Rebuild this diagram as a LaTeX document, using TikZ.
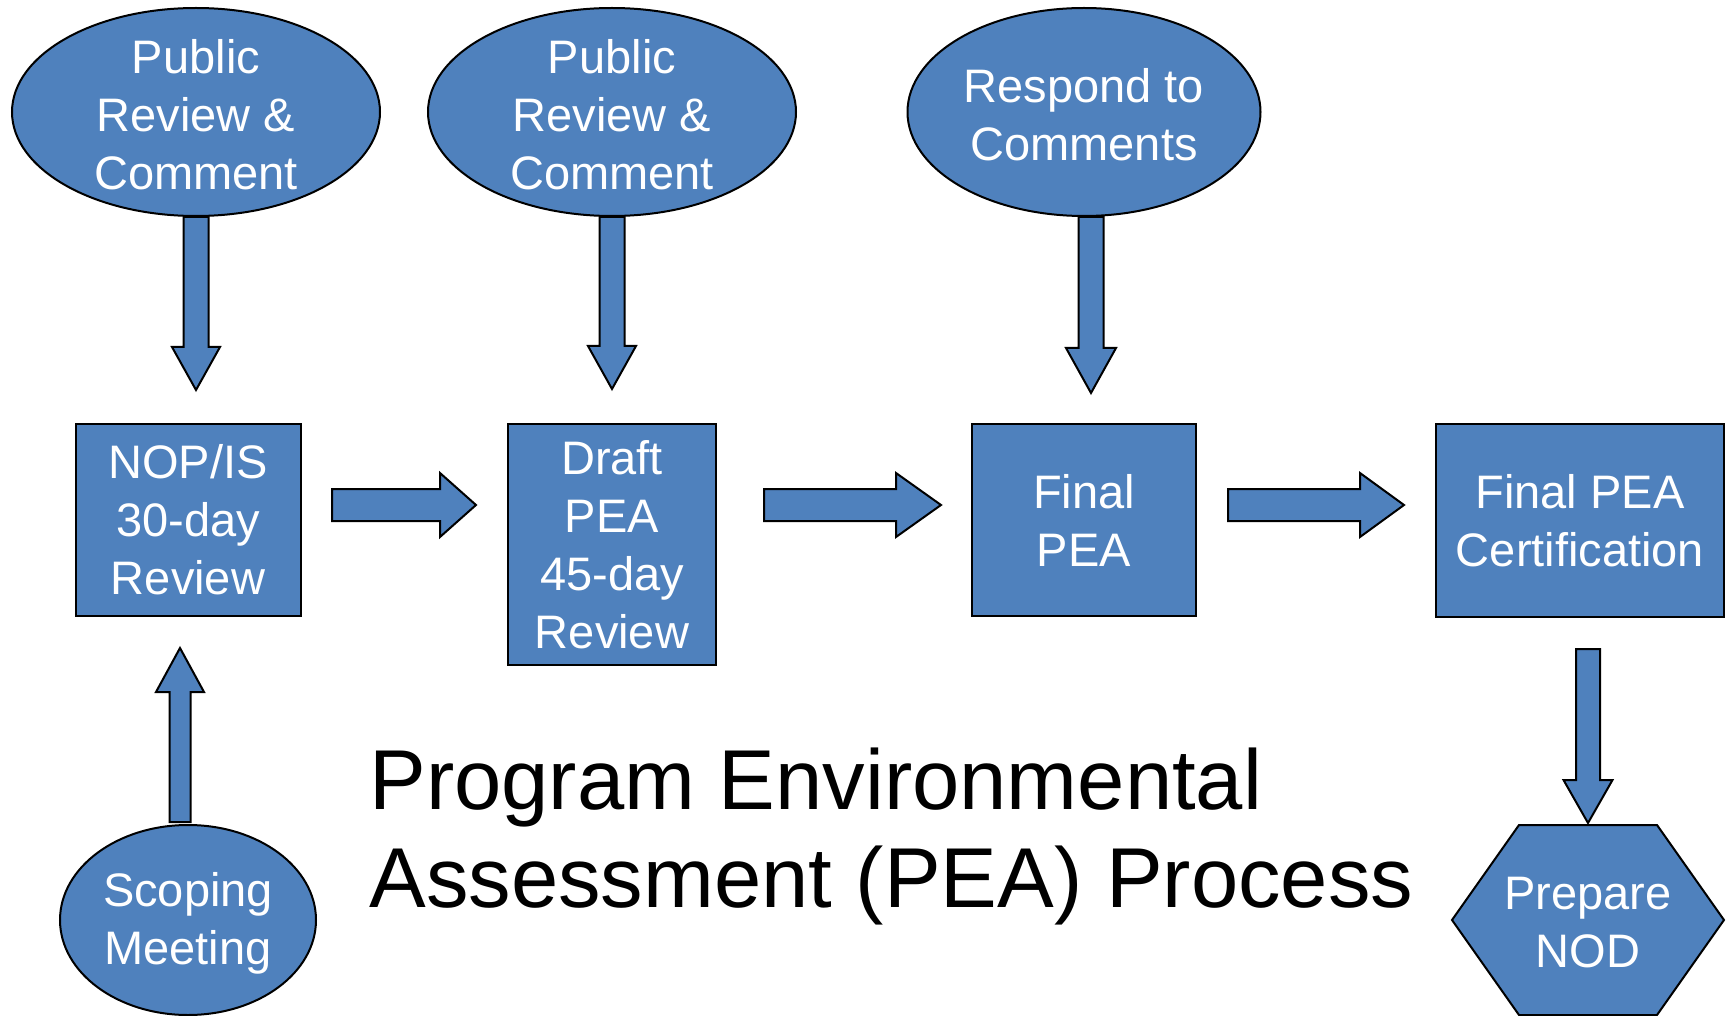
\documentclass[tikz,border=0pt]{standalone}
\usepackage{fontspec}
\setmainfont{Liberation Sans}
\usepackage{tikz}
\usetikzlibrary{shapes.geometric}
\usetikzlibrary{calc}
\definecolor{peablue}{HTML}{4F81BD}
\tikzset{basic/.style={draw=black,fill=peablue,line width=1pt}}
\tikzset{bubble/.style={basic,ellipse,minimum height=104pt,inner sep=0pt}}
\tikzset{stepbox/.style={basic,rectangle,inner sep=2pt,text=white,
                         align=center,font=\boxfont}}
\tikzset{fat/.style={basic,line join=miter}}
\def\boxfont{\fontsize{23.5}{29}\selectfont}
% block arrow: start, tip, half shaft, half head, head length
\newcommand{\fatarrow}[5]{%
  \coordinate (fa-h) at ($(#2)!#5!(#1)$);
  \draw[fat] ($(#1)!#3!90:(#2)$) -- ($(fa-h)!#3!90:(#2)$) -- ($(fa-h)!#4!90:(#2)$)
    -- (#2) -- ($(fa-h)!#4!-90:(#2)$) -- ($(fa-h)!#3!-90:(#2)$)
    -- ($(#1)!#3!-90:(#2)$) -- cycle;}

\begin{document}
\begin{tikzpicture}[x=0.5pt,y=-0.5pt]
    \tikzstyle{btext}=[text=white,align=center,font=\boxfont,inner sep=0pt,yshift=-1.5pt]
    \tikzstyle{title}=[align=left,inner sep=0pt,font=\fontsize{42.5}{49}\selectfont]
    \useasboundingbox (0,0) rectangle (1731,1016);

    % Draw the comment bubbles across the top
    \foreach \name/\x/\w/\txt in {1/196/184pt/{Public\\Review \&\\Comment},
                                  2/612/184pt/{Public\\Review \&\\Comment},
                                  3/1084/176.5pt/{Respond to\\Comments}}
    {
        \node[bubble,minimum width=\w] (P-\name) at (\x,112) {};
        \node[btext] (P-\name-t) at (P-\name) {\txt};
    }

    % Draw the process steps
    \node[stepbox,minimum width=112.5pt,minimum height=96pt] (B-1) at (188,520) {NOP/IS\\30-day\\Review};
    \node[stepbox,minimum width=104pt,minimum height=120.5pt] (B-2) at (612,544.5) {Draft\\PEA\\45-day\\Review};
    \node[stepbox,minimum width=112pt,minimum height=96pt] (B-3) at (1084,520) {Final\\PEA};
    \node[stepbox,minimum width=144pt,minimum height=96pt] (B-4) at (1580,520.5) {Final PEA\\Certification};

    % Scoping meeting and the NOD hexagon at the bottom
    \node[bubble,minimum width=128pt,minimum height=95pt] (S-1) at (188,920) {};
    \node[btext] (S-1-t) at (S-1) {Scoping\\Meeting};
    \coordinate (N-c) at (1588,920);
    \draw[basic] (N-c) ++(-136,0) -- ++(67,-95) -- ++(138,0) -- ++(67,95)
        -- ++(-67,95) -- ++(-138,0) -- cycle;
    \node[btext] (N-1) at (N-c) {Prepare\\NOD};

    % Title
    \node[title,anchor=base west] (T-1) at (369,907) {Program Environmental\\Assessment (PEA) Process};

    % Arrow end points
    \coordinate (D-1) at (196,390);
    \coordinate (D-2) at (612,389);
    \coordinate (D-3s) at ($(P-3.south)+(7,0)$);
    \coordinate (D-3) at (1091,393);
    \foreach \i/\a/\b in {1/332/476,2/764/941,3/1228/1404}
    {
        \coordinate (R-\i a) at (\a,505);
        \coordinate (R-\i b) at (\b,505);
    }
    \coordinate (U-a) at (180,822);
    \coordinate (U-b) at (180,648);
    \coordinate (V-a) at (1588,649);
    \coordinate (V-b) at (1588,823);

    % Arrows from the bubbles down to the steps
    \fatarrow{P-1.south}{D-1}{6.25pt}{12pt}{21.5pt}
    \fatarrow{P-2.south}{D-2}{6.25pt}{12pt}{21.5pt}
    \fatarrow{D-3s}{D-3}{6.25pt}{12.5pt}{22.5pt}

    % Arrows between the steps
    \foreach \i/\h in {1/18pt,2/22.5pt,3/22pt}
    {
        \fatarrow{R-\i a}{R-\i b}{8pt}{16pt}{\h}
    }

    % Scoping up, certification down
    \fatarrow{U-a}{U-b}{5.25pt}{12pt}{22pt}
    \fatarrow{V-a}{V-b}{6pt}{12.25pt}{21.5pt}
\end{tikzpicture}
\end{document}
